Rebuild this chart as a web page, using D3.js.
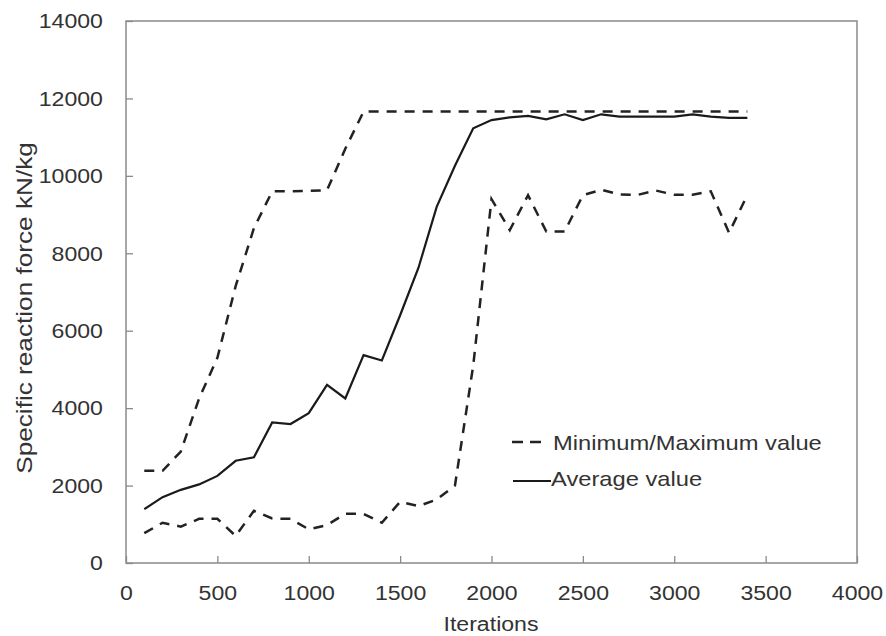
<!DOCTYPE html>
<html>
<head>
<meta charset="utf-8">
<script src="https://cdn.jsdelivr.net/npm/d3@7"></script>
<style>
  html, body { margin: 0; padding: 0; background: #fff; }
  svg { display: block; }
  text { font-family: "Liberation Sans", Arial, sans-serif; fill: #333; }
</style>
</head>
<body>
<svg id="chart" width="886" height="636"></svg>
<script>
const iterations = [100,200,300,400,500,600,700,800,900,1000,1100,1200,1300,1400,1500,1600,1700,1800,1900,2000,2100,2200,2300,2400,2500,2600,2700,2800,2900,3000,3100,3200,3300,3400];
const maxValues = [2380,2380,2880,4250,5300,7150,8650,9600,9600,9610,9630,10700,11660,11660,11660,11660,11660,11660,11660,11660,11660,11660,11660,11660,11660,11660,11660,11660,11660,11660,11660,11660,11660,11660];
const minValues = [770,1040,940,1140,1140,700,1350,1150,1140,870,980,1270,1270,1040,1580,1470,1640,2000,5100,9400,8600,9500,8560,8560,9500,9640,9520,9510,9620,9510,9510,9600,8530,9510];
const avgValues = [1390,1700,1890,2030,2250,2640,2730,3630,3590,3870,4600,4250,5370,5230,6400,7620,9200,10260,11230,11440,11510,11550,11460,11590,11440,11590,11530,11530,11530,11530,11590,11530,11500,11500];
const xTicks = [0,500,1000,1500,2000,2500,3000,3500,4000];
const yTicks = [0,2000,4000,6000,8000,10000,12000,14000];
const xLabel = "Iterations";
const yLabel = "Specific reaction force kN/kg";
const legendLabels = ["Minimum/Maximum value", "Average value"];

const svg = d3.select("#chart");
const L = 126, R = 857, T = 21, B = 563;
const x = d3.scaleLinear().domain([0, 4000]).range([L, R]);
const y = d3.scaleLinear().domain([0, 14000]).range([B, T]);
const frameColor = "#8a8a8a";
const fs = 21, sx = 1.1;

// axes
const gx = svg.append("g").attr("transform", `translate(0,${B})`)
  .call(d3.axisBottom(x).tickValues(xTicks).tickFormat(d3.format("d")).tickSizeInner(-7).tickSizeOuter(0).tickPadding(22));
const gy = svg.append("g").attr("transform", `translate(${L},0)`)
  .call(d3.axisLeft(y).tickValues(yTicks).tickFormat(d3.format("d")).tickSizeInner(-7).tickSizeOuter(0).tickPadding(21));
[gx, gy].forEach(g => {
  g.select(".domain").remove();
  g.selectAll(".tick line").attr("stroke", frameColor).attr("stroke-width", 1.3);
  g.selectAll(".tick text").attr("font-size", fs).attr("fill", "#333")
    .attr("font-family", '"Liberation Sans", Arial, sans-serif')
    .attr("transform", `scale(${sx},1)`);
});

// frame
svg.append("rect").attr("x", L).attr("y", T).attr("width", R - L).attr("height", B - T)
  .attr("fill", "none").attr("stroke", frameColor).attr("stroke-width", 1.5);

// lines
const line = d3.line().x((d, i) => x(iterations[i])).y(d => y(d));
const dash = "10,8";
svg.append("path").datum(maxValues).attr("d", line).attr("fill", "none")
  .attr("stroke", "#222").attr("stroke-width", 2.5).attr("stroke-dasharray", dash);
svg.append("path").datum(minValues).attr("d", line).attr("fill", "none")
  .attr("stroke", "#222").attr("stroke-width", 2.5).attr("stroke-dasharray", dash);
svg.append("path").datum(avgValues).attr("d", line).attr("fill", "none")
  .attr("stroke", "#1a1a1a").attr("stroke-width", 2.2);

// axis titles
svg.append("text").attr("transform", `translate(491,631) scale(${sx},1)`)
  .attr("text-anchor", "middle").attr("font-size", fs).text(xLabel);
svg.append("text").attr("transform", `translate(32,308) rotate(-90) scale(1.19,1)`)
  .attr("text-anchor", "middle").attr("font-size", 22).text(yLabel);

// legend
const lg = svg.append("g");
lg.append("line").attr("x1", 512).attr("x2", 548).attr("y1", 442).attr("y2", 442)
  .attr("stroke", "#222").attr("stroke-width", 2.5).attr("stroke-dasharray", "11,7");
lg.append("text").attr("transform", `translate(553,450) scale(1.13,1)`).attr("font-size", fs).text(legendLabels[0]);
lg.append("line").attr("x1", 513).attr("x2", 551).attr("y1", 481).attr("y2", 481)
  .attr("stroke", "#1a1a1a").attr("stroke-width", 2.2);
lg.append("text").attr("transform", `translate(551,486) scale(1.13,1)`).attr("font-size", fs).text(legendLabels[1]);
</script>
</body>
</html>
